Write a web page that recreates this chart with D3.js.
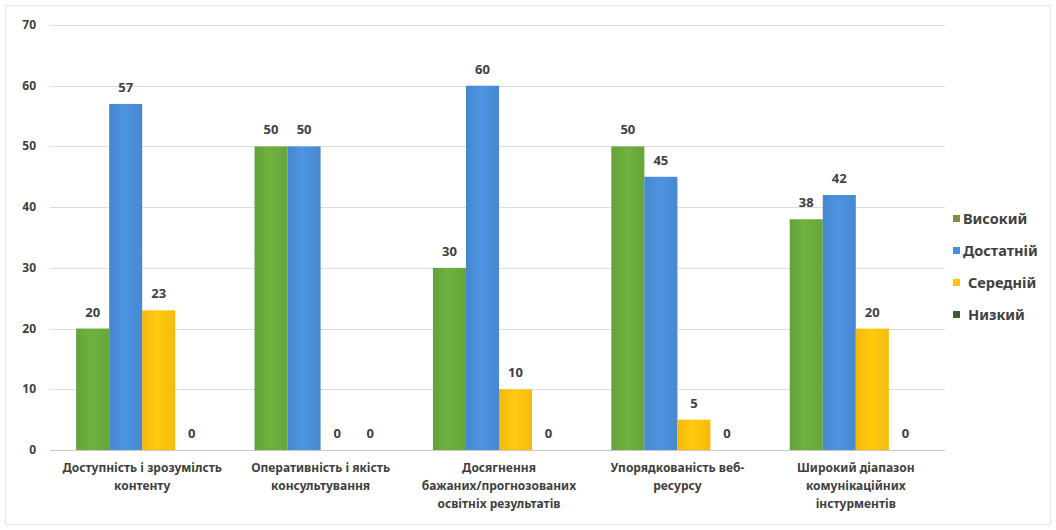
<!DOCTYPE html>
<html>
<head>
<meta charset="utf-8">
<script src="https://cdn.jsdelivr.net/npm/d3@7"></script>
<style>
  body { margin: 0; background: #fff; }
  text { font-family: "Noto Sans", "Open Sans", sans-serif; font-weight: bold; fill: #404040; }
</style>
</head>
<body>
<script>
const categories = [
    ["Доступність і зрозумілсть", "контенту"],
    ["Оперативність і якість", "консультування"],
    ["Досягнення", "бажаних/прогнозованих", "освітніх результатів"],
    ["Упорядкованість веб-", "ресурсу"],
    ["Широкий діапазон", "комунікаційних", "інстурментів"]
];
const seriesNames = ["Високий", "Достатній", "Середній", "Низкий"];
const vysokyi = [20, 50, 30, 50, 38];
const dostatnii = [57, 50, 60, 45, 42];
const serednii = [23, 0, 10, 5, 20];
const nyzkyi = [0, 0, 0, 0, 0];
const yTicks = [0, 10, 20, 30, 40, 50, 60, 70];

const seriesValues = [vysokyi, dostatnii, serednii, nyzkyi];
const colors = ["#6aab3c", "#4a8ed8", "#ffc20e", "#3f5f28"];

const width = 1056;
const height = 530;
const margin = { top: 25, right: 111, bottom: 80, left: 53 };

const svg = d3.select("body").append("svg")
    .attr("width", width)
    .attr("height", height);

// light frame
svg.append("rect")
    .attr("x", 5.5).attr("y", 5.5)
    .attr("width", width - 11).attr("height", height - 11)
    .attr("fill", "none").attr("stroke", "#e4e4e4");

// bar gradients
const defs = svg.append("defs");
colors.forEach((c, i) => {
    const g = defs.append("linearGradient").attr("id", "grad" + i)
        .attr("x1", "0").attr("x2", "1").attr("y1", "0").attr("y2", "0");
    const base = d3.color(c);
    g.append("stop").attr("offset", "0%").attr("stop-color", base.darker(0.15));
    g.append("stop").attr("offset", "45%").attr("stop-color", base.brighter(0.12));
    g.append("stop").attr("offset", "100%").attr("stop-color", base.darker(0.1));
});

const x0 = d3.scaleBand()
    .domain(d3.range(categories.length))
    .range([margin.left, width - margin.right])
    .paddingInner(0)
    .paddingOuter(0);

const x1 = d3.scaleBand()
    .domain(d3.range(seriesNames.length))
    .range([0, x0.bandwidth()])
    .paddingInner(0)
    .paddingOuter(0.7);

const y = d3.scaleLinear()
    .domain([0, 70])
    .range([height - margin.bottom, margin.top]);

// gridlines + y labels
const grid = svg.append("g");
grid.selectAll("line")
    .data(yTicks)
    .enter().append("line")
    .attr("x1", margin.left - 3)
    .attr("x2", width - margin.right)
    .attr("y1", d => Math.round(y(d)) + 0.5)
    .attr("y2", d => Math.round(y(d)) + 0.5)
    .attr("stroke", d => d === 0 ? "#c8c8c8" : "#dcdcdc")
    .attr("stroke-width", 1);

grid.selectAll("text")
    .data(yTicks)
    .enter().append("text")
    .attr("x", 36)
    .attr("y", d => y(d) + 4)
    .attr("text-anchor", "end")
    .style("font-size", "12px")
    .text(d => d);

// bars
const groups = svg.append("g").selectAll("g")
    .data(categories)
    .enter().append("g")
    .attr("transform", (d, i) => `translate(${x0(i)},0)`);

groups.selectAll("rect")
    .data((d, i) => seriesValues.map((s, k) => ({ k: k, v: s[i] })))
    .enter().append("rect")
    .attr("x", d => x1(d.k))
    .attr("width", x1.bandwidth())
    .attr("y", d => y(d.v))
    .attr("height", d => y(0) - y(d.v))
    .attr("fill", d => `url(#grad${d.k})`);

groups.selectAll("text.val")
    .data((d, i) => seriesValues.map((s, k) => ({ k: k, v: s[i] })))
    .enter().append("text")
    .attr("class", "val")
    .attr("x", d => x1(d.k) + x1.bandwidth() / 2)
    .attr("y", d => y(d.v) - 12)
    .attr("text-anchor", "middle")
    .style("font-size", "13px")
    .text(d => d.v);

// category labels
const catLabels = svg.append("g").selectAll("text")
    .data(categories)
    .enter().append("text")
    .attr("x", (d, i) => x0(i) + x0.bandwidth() / 2)
    .attr("y", height - margin.bottom + 22)
    .attr("text-anchor", "middle")
    .style("font-size", "12px");

catLabels.selectAll("tspan")
    .data(d => d)
    .enter().append("tspan")
    .attr("x", function () { return d3.select(this.parentNode).attr("x"); })
    .attr("dy", (d, i) => i === 0 ? 0 : 18)
    .text(d => d);

// legend
const legend = svg.append("g")
    .attr("transform", `translate(953, 215)`);

const items = legend.selectAll("g")
    .data(seriesNames)
    .enter().append("g")
    .attr("transform", (d, i) => `translate(0, ${i * 32})`);

items.append("rect")
    .attr("x", 0).attr("y", 0)
    .attr("width", 7).attr("height", 7)
    .attr("fill", (d, i) => i === 0 ? "#7f8f3f" : colors[i]);

items.append("text")
    .attr("x", (d, i) => i >= 2 ? 15 : 10)
    .attr("y", 9)
    .style("font-size", "14.5px")
    .text(d => d);
</script>
</body>
</html>
